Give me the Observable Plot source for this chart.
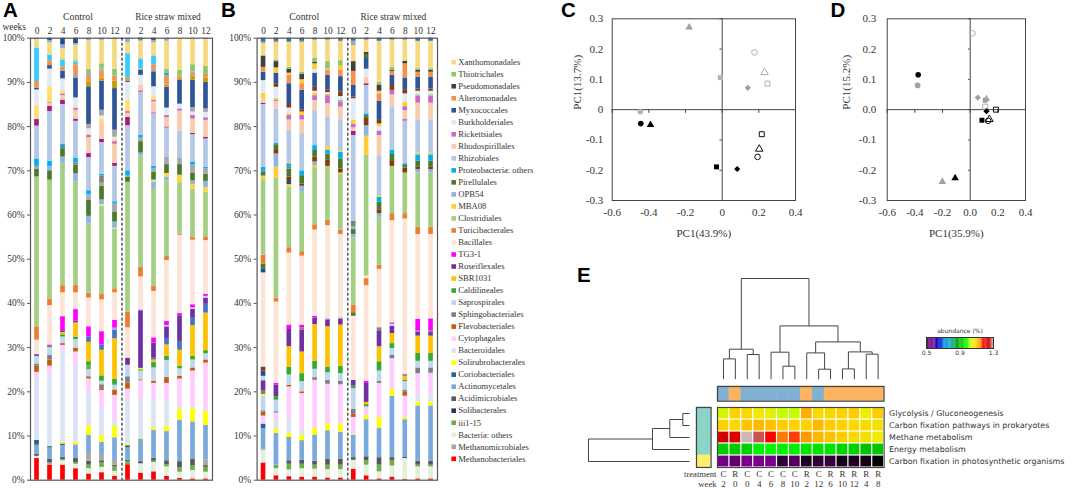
<!DOCTYPE html>
<html><head><meta charset="utf-8">
<script src="https://cdn.jsdelivr.net/npm/d3@7"></script>
<script src="https://cdn.jsdelivr.net/npm/@observablehq/plot@0.6"></script>
<style>
html,body{margin:0;padding:0;background:#fff;width:1072px;height:488px;overflow:hidden}
#fig{position:relative;width:1072px;height:488px}
#fig svg{position:absolute;overflow:visible;background:transparent}
.letter{position:absolute;font:bold 20.5px/20.5px "Liberation Sans",sans-serif;color:#000}
</style></head><body><div id="fig"></div>
<script>
const SERIF='"Liberation Serif","Times New Roman",serif';
const SANS='"DejaVu Sans",sans-serif';
const INK='#333';

// ---------- order-level composition: legend (top-down) ----------
const legendNames=["Xanthomonadales","Thiotrichales","Pseudomonadales","Alteromonadales","Myxococcales","Burkholderiales","Rickettsiales","Rhodospirillales","Rhizobiales","Proteobacteria: others","Pirellulales","OPB54","MBA08","Clostridiales","Turicibacterales","Bacillales","TG3-1","Roseiflexales","SBR1031","Caldilineales","Saprospirales","Sphingobacteriales","Flavobacteriales","Cytophagales","Bacteroidales","Solirubrobacterales","Coriobacteriales","Actinomycetales","Acidimicrobiales","Solibacterales","iii1-15","Bacteria: others","Methanomicrobiales","Methanobacteriales"];
const legendKeys=["xan","thi","dkg","alt","myx","bur","ric","rho","rhz","pro","pir","opb","mba","clo","tur","bcl","tg3","ros","sbr","cal","sap","sph","fla","cyt","bac","sol","cor","act","aci","slb","iii","oth","mmi","red"];
const layerColors={xan:"#f7d87f",thi:"#8cc66d",dkg:"#404040",alt:"#f4914d",myx:"#2f5597",bur:"#deebf7",ric:"#cc66cc",rho:"#f8cbad",rhz:"#b4c7e7",pro:"#00b0f0",pir:"#4a7a2c",opb:"#8fb4e0",mba:"#ffcc33",clo:"#a3cf82",tur:"#ed7d31",bcl:"#fce4d6",tg3:"#ff00ff",ros:"#7030a0",sbr:"#ffc000",cal:"#33aa33",sap:"#bdd7ee",sph:"#7f7f7f",fla:"#c55a11",cyt:"#ffccff",bac:"#dae3f3",sol:"#ffff00",cor:"#2a6099",act:"#7aaadc",aci:"#595959",slb:"#1f3864",iii:"#70ad47",oth:"#e2f0d9",mmi:"#a6a6a6",red:"#ff0000",
 sky:"#33ccff",mar:"#a0207f",och:"#c49a00",gry:"#a6a6a6",op2:"#8faadc",nav:"#1f4e8f",blu:"#2e75b6",brn:"#843c0c",yel:"#ffdf70",ylb:"#ffd23f",blv:"#4472c4",ora:"#c55a11"};

// Panel A: upper edge (%) of each layer, bottom-up, one array per sample
const aC0=["red",4.9,"oth",5.4,"aci",5.9,"act",7.9,"cor",9,"bac",23.3,"cyt",24.4,"fla",25.8,"sph",26.3,"sap",28,"ros",28.4,"bcl",31.7,"tur",34.7,"clo",68.6,"pir",70.4,"gry",71,"pro",72.7,"rhz",80.1,"mar",81.6,"rho",82,"yel",84.8,"bur",88.3,"myx",88.7,"alt",90.2,"sky",97.8,"xan",99.7,"op2",100];
const aC2=["red",3.4,"mmi",3.9,"aci",4.7,"act",7.3,"cor",7.6,"sol",7.7,"bac",24,"cyt",25.8,"fla",27.2,"sph",28.2,"sap",30,"cal",30.3,"tg3",30.6,"bcl",39.5,"tur",41,"clo",67.9,"pir",70,"opb",71,"pro",72.2,"rhz",83.4,"mar",84.6,"rho",85.2,"ric",85.4,"yel",89,"bur",93,"myx",93.8,"alt",94.9,"sky",96.2,"xan",99,"op2",99.5,"nav",100];
const aC4=["red",3.4,"oth",4.4,"iii",4.7,"aci",5.2,"act",7.8,"cor",8.2,"sol",8.6,"bac",29.3,"cyt",30.5,"fla",30.9,"sap",32.4,"cal",32.9,"sbr",33.4,"ros",33.8,"tg3",37,"bcl",42.4,"tur",44,"clo",71.7,"opb",73.1,"pir",75,"sph",75.5,"pro",76,"rhz",85,"mar",86,"rho",87,"ric",87.4,"yel",88.2,"bur",90.8,"myx",92.5,"gry",92.7,"alt",93.5,"sky",95.1,"xan",97.6,"op2",98.5,"nav",100];
const aC6=["red",2.6,"oth",3.6,"iii",4,"aci",4.9,"act",8,"sol",8.6,"bac",26.2,"cyt",29,"fla",29.9,"sap",31.8,"cal",32.4,"sbr",35.6,"ros",36,"tg3",38.6,"bcl",42.4,"tur",44.1,"clo",67.5,"opb",69.3,"pir",71.3,"sph",71.8,"pro",72.9,"rhz",81.2,"mar",81.7,"rho",83.7,"ric",84.1,"yel",84.5,"bur",86.5,"myx",91,"gry",91.8,"alt",94,"sky",94.6,"thi",94.9,"xan",98.4,"op2",98.8,"nav",100];
const aC8=["red",1.4,"oth",2.6,"iii",3.4,"aci",4.3,"gry",6,"act",10.2,"sol",12.3,"bac",19.8,"cyt",22.9,"fla",23.4,"sap",25,"iii",25.8,"cal",26.8,"sbr",31.2,"blv",32.4,"tg3",34.7,"bcl",41.2,"tur",42.3,"clo",58,"opb",59.7,"pir",63.3,"gry",64,"opb",64.6,"pro",65.5,"rhz",73,"mar",73.9,"rho",77.5,"ric",78,"yel",78.5,"bur",79.5,"gry",80.5,"myx",89,"och",90,"alt",91.5,"op2",92,"thi",93,"xan",99.4,"op2",100];
const aC10=["red",1.7,"oth",2.9,"iii",3.9,"aci",4.4,"gry",5.8,"act",8.6,"sol",10,"bac",16,"cyt",20.3,"fla",20.7,"sph",21.6,"sap",22.4,"cal",23.6,"sbr",29.4,"blv",30.6,"tg3",33.6,"bcl",40.8,"tur",42,"clo",62,"yel",62.3,"opb",63.4,"pir",66.5,"gry",67.2,"sph",68.8,"pro",69.2,"rhz",76.4,"mar",77.1,"rho",80.9,"yel",81.7,"bur",82.4,"gry",83.7,"myx",90.3,"och",91,"alt",92.6,"op2",93,"thi",94.2,"xan",99.5,"op2",100];
const aC12=["red",0.9,"oth",2,"iii",3,"aci",3.4,"gry",4.7,"act",9.6,"sol",12.3,"bac",13.6,"cyt",19.2,"fla",20.4,"sap",21.5,"cal",22.8,"sbr",32,"blv",34,"opb",34.4,"tg3",36.2,"bcl",42.4,"tur",43.3,"clo",56.8,"yel",57,"opb",58.4,"pir",60.7,"gry",62.5,"pro",63,"rhz",71,"mar",71.7,"rho",76,"ric",76.6,"yel",77.1,"bur",77.6,"gry",79.2,"myx",88.6,"och",90.3,"alt",91.4,"thi",93,"xan",99.7,"op2",100];
const aR0=["red",3.5,"iii",4.2,"aci",4.5,"act",7.3,"cor",7.8,"sol",8.2,"bac",18.5,"cyt",20.6,"fla",22,"sph",23.4,"sap",26,"ros",27.6,"bcl",34.5,"tur",38,"clo",67.4,"pir",68.5,"gry",68.8,"pro",70,"rhz",80.2,"mar",82.1,"rho",83,"ric",83.4,"yel",86,"bur",90,"myx",90.2,"alt",91,"sky",96.5,"xan",99,"op2",100];
const aR2=["red",1.6,"oth",3.7,"aci",4.2,"act",9.2,"cor",9.3,"sol",9.5,"bac",18.4,"cyt",22.5,"fla",22.7,"sap",24.7,"cal",25,"sol",25.3,"ros",38.3,"tg3",38.5,"bcl",46,"tur",48.2,"clo",73.3,"opb",74,"pir",76.6,"gry",77.4,"pro",78,"rhz",87.7,"ric",88.1,"rho",89.4,"yel",89.6,"bur",91.6,"myx",92.7,"alt",93,"sky",95.3,"xan",99.3,"op2",99.6,"dkg",100];
const aR4=["red",1.9,"oth",4,"iii",4.3,"aci",5,"act",11.3,"sol",11.9,"bac",18.5,"cyt",21.9,"fla",22.4,"sap",25.4,"cal",26.6,"sbr",27.2,"blv",27.6,"ros",31,"tg3",32.2,"bcl",42.7,"tur",43.9,"clo",66,"opb",67.5,"yel",67.9,"pir",69.7,"gry",70.4,"pro",71,"rhz",82.9,"mar",83.1,"rho",85.6,"ric",86,"yel",87,"bur",89,"myx",92.4,"gry",92.9,"alt",94,"sky",96,"xan",99,"op2",99.5,"dkg",100];
const aR6=["red",0.9,"oth",3,"iii",3.5,"aci",4.4,"act",11,"sol",12.2,"bac",18,"cyt",21.9,"fla",23,"sph",23.3,"sap",27.1,"cal",28,"sbr",30.6,"blv",31.9,"ros",34.7,"sap",35,"tg3",35.9,"bcl",49.7,"tur",50.6,"clo",67.7,"opb",68.5,"ylb",69.4,"pir",71.4,"gry",73,"rhz",79.7,"mar",79.9,"rho",82,"ric",82.5,"bur",84.2,"myx",88.9,"och",89.4,"alt",91.5,"pro",92,"thi",93,"xan",99.3,"op2",100];
const aR8=["red",0.4,"oth",1.8,"iii",2.8,"aci",4.2,"act",13.6,"sol",16,"bac",16.7,"cyt",22.9,"fla",23.5,"sap",25.2,"cal",25.8,"sbr",29.4,"blv",31.4,"ros",37.2,"tg3",37.7,"bcl",55.4,"tur",55.7,"clo",67.3,"ylb",69,"pir",71.4,"gry",72.8,"rhz",79,"rho",83.5,"ric",84,"bur",85,"gry",85.1,"myx",90.5,"och",91,"alt",91.5,"thi",92.8,"xan",100];
const aR10=["red",0.3,"oth",2.2,"iii",3.3,"aci",4.8,"act",13.2,"sol",16.2,"bac",16.8,"cyt",24.7,"fla",25.4,"sap",27.2,"cal",28,"sbr",35,"blv",36.8,"ros",38.7,"sap",39,"tg3",39.7,"bcl",54.3,"tur",55,"clo",65.8,"ylb",66.9,"opb",67.7,"pir",69.5,"gry",71.3,"pro",72,"rhz",78.2,"mar",78.5,"rho",81.7,"ric",82.5,"bur",83.3,"gry",84.3,"myx",90.5,"och",91.3,"alt",92,"op2",92.4,"thi",94,"xan",99.8,"op2",100];
const aR12=["red",0.3,"oth",1.8,"iii",2.9,"aci",3.3,"gry",4.6,"act",12.4,"sol",15.6,"bac",16.2,"cyt",26.5,"fla",27.2,"sap",28.6,"cal",29.3,"sbr",37.8,"blv",39.8,"ros",41.2,"sap",41.6,"tg3",42.1,"bcl",54.2,"tur",54.9,"clo",65.2,"ylb",66.2,"opb",67.6,"pir",69.2,"gry",70.5,"pro",70.8,"rhz",77.2,"mar",77.6,"rho",81.4,"ric",82,"bur",83.2,"gry",84,"myx",90,"och",91,"alt",91.8,"thi",93.6,"xan",99.7,"op2",100];

// Panel B
const bC0=["red",3.9,"oth",6.8,"iii",7,"act",11.7,"cor",12.7,"cyt",14.5,"fla",15.4,"sph",15.7,"sap",19.1,"sol",19.4,"sph",20.3,"ros",22.5,"sap",23.5,"nav",24.7,"brn",25.6,"bcl",46.9,"nav",47.7,"pir",48.9,"tur",50.9,"clo",68,"mba",68.8,"pir",69.6,"sph",69.9,"pro",70.8,"rhz",85,"mar",85.3,"rho",86.4,"mba",87.6,"bur",90.4,"myx",92.3,"alt",93.4,"dkg",95.9,"thi",96.1,"xan",98.9,"ora",99.1,"blu",100];
const bC2=["red",1,"oth",2.6,"iii",3.4,"act",10.6,"sol",11.5,"bac",13.6,"cyt",15.2,"sph",15.5,"sap",18.1,"cal",18.9,"ros",21.5,"tg3",21.9,"bcl",40.3,"tur",41.2,"clo",68.3,"mba",70.8,"opb",73.8,"brn",74.8,"pir",75.9,"pro",76.2,"rhz",84,"rho",85.7,"ric",86,"mba",86.4,"bur",88.9,"brn",89.7,"myx",92.1,"mba",93.1,"alt",93.3,"dkg",94.7,"thi",95.1,"xan",99.1,"ora",99.3,"blu",100];
const bC4=["red",0.8,"oth",2.3,"iii",3.6,"aci",4.4,"act",9.4,"cor",9.6,"sol",10.6,"bac",13.7,"cyt",21.1,"fla",21.5,"sap",23.8,"cal",25.6,"sbr",30.2,"ros",34.1,"tg3",35.1,"bcl",51.4,"tur",52.6,"clo",66.3,"mba",66.9,"nav",67.8,"brn",68.6,"pir",70.4,"sph",70.8,"pro",71.6,"mba",71.9,"rhz",79.1,"rho",81.5,"ric",82.5,"mba",82.9,"bur",84.2,"brn",85,"myx",89.7,"alt",91.6,"mba",92.1,"dkg",93,"thi",93.4,"xan",99.1,"blu",100];
const bC6=["red",0.7,"oth",2.6,"iii",3.6,"aci",4.5,"act",8.7,"cor",8.9,"sol",10.2,"bac",11.3,"cyt",19.6,"fla",20,"sap",22.3,"cal",24.1,"sbr",29,"ros",33.9,"sph",34.5,"tg3",35.1,"bcl",50.7,"tur",51.7,"clo",65.3,"opb",66.5,"brn",67,"pir",68.9,"pro",70,"rhz",78.4,"rho",81.5,"ric",82.5,"mba",83.3,"brn",83.8,"myx",88.2,"alt",89.7,"mba",90.6,"dkg",91.8,"thi",92.3,"xan",99.1,"ora",99.3,"blu",100];
const bC8=["red",0.7,"oth",2.5,"iii",3.4,"aci",4.3,"act",10.2,"sol",11.7,"cyt",22.6,"sph",23.2,"sap",25.1,"cal",26.9,"sbr",35.2,"ros",36.7,"tg3",37.1,"bcl",56.6,"tur",57.8,"clo",70.7,"mba",71.2,"opb",72,"brn",73.1,"pir",74.6,"pro",75.7,"rhz",83.6,"rho",85.9,"ric",87,"mba",87.6,"bur",88,"brn",88.9,"myx",92.1,"bur",92.9,"mba",94.2,"dkg",94.5,"thi",95.5,"xan",99.6,"blu",100];
const bC10=["red",0.5,"oth",2.4,"iii",3.4,"aci",4.7,"act",11.2,"sol",12.7,"cyt",21.7,"sph",22.6,"sap",24.3,"cal",25.6,"sbr",34.7,"ros",36.3,"sap",36.7,"bcl",57.6,"tur",58.8,"clo",71,"brn",72.5,"pir",73.8,"pro",74.7,"mba",75.5,"rhz",82.1,"rho",85.2,"ric",87,"mba",87.3,"bur",87.7,"brn",88.3,"myx",91.6,"alt",92.8,"mba",93,"thi",94.7,"xan",99.6,"blu",100];
const bC12=["red",0.5,"oth",2.4,"iii",3.4,"aci",4.7,"act",10.9,"sol",12.7,"cyt",21.6,"sph",22.4,"sap",24.1,"cal",25.8,"sbr",35.1,"ros",36.5,"sap",36.8,"bcl",55.6,"tur",56.6,"clo",69.2,"mba",69.5,"brn",70.4,"pir",72.7,"pro",74.2,"mba",74.6,"rhz",81.5,"rho",84.4,"ric",85.5,"thi",86,"bur",86.8,"brn",87.8,"myx",91.3,"alt",92.7,"mba",93.8,"thi",94.9,"xan",99.3,"ora",99.5,"blu",100];
const bR0=["red",2.5,"oth",4.5,"aci",5.1,"act",10.2,"sol",10.4,"cyt",14.2,"fla",14.9,"sph",16,"sap",20.7,"cal",21.3,"ros",22.6,"bcl",37.1,"pir",37.9,"tur",39.6,"clo",54.8,"opb",55.6,"pir",56.7,"opb",57.3,"sph",58.6,"rhz",78,"mar",78.9,"rho",79.7,"ric",80.5,"mba",81.5,"bur",86.3,"brn",86.7,"myx",89.3,"alt",92.5,"dkg",94.7,"xan",98.3,"gry",99.3,"blu",100];
const bR2=["red",1,"oth",3.4,"iii",4.4,"aci",5.3,"act",13.7,"sol",14.6,"cyt",16.6,"cal",17.1,"sbr",17.6,"ros",21.9,"tg3",22.4,"bcl",44,"tur",45.6,"bcl",46.2,"clo",73.5,"mba",77.8,"opb",80.2,"brn",82,"pir",82.5,"pro",82.9,"rhz",89.3,"mar",89.7,"rho",91.2,"bur",93,"myx",95.4,"pir",96.3,"dkg",96.8,"xan",99.6,"blu",100];
const bR4=["red",0.3,"oth",1.9,"iii",3.4,"aci",5.1,"act",11.7,"sol",14.2,"cyt",21.9,"sph",22.4,"sap",24.7,"cal",26.8,"sbr",30.2,"ros",33.8,"sph",34.5,"bcl",47.7,"tur",48.6,"clo",59.5,"opb",60.3,"brn",61.2,"pir",62.9,"pro",64,"mba",64.4,"rhz",73.4,"rho",78,"ric",79,"bur",80,"mba",80.6,"brn",81.4,"myx",85.7,"alt",87.4,"mba",88,"dkg",89.4,"thi",90,"xan",99.3,"blu",100];
const bR6=["red",0.7,"oth",3.2,"iii",4.4,"aci",5.1,"act",19,"sol",20.5,"cyt",27.5,"sph",28.3,"sap",29.8,"cal",30.9,"sbr",33.2,"ros",34.8,"sap",35.3,"tg3",35.6,"bcl",58.7,"tur",60.3,"clo",71,"brn",72.3,"pir",73.7,"pro",74.6,"rhz",84.4,"rho",87.2,"ric",88.2,"brn",89.3,"myx",91.6,"alt",92.5,"dkg",92.8,"thi",93.4,"xan",99.6,"blu",100];
const bR8=["red",0.2,"oth",4.9,"slb",5.1,"act",13.7,"sol",14.2,"cyt",19,"fla",20,"sph",20.4,"sap",22.3,"cal",22.6,"sbr",23.5,"sph",23.9,"bcl",59.1,"tur",60.3,"clo",69.5,"brn",70.6,"pir",71.2,"pro",71.6,"rhz",81.2,"ric",81.7,"rho",83.6,"ric",84.5,"mba",85.5,"bur",87.4,"brn",88.2,"myx",91,"alt",94.2,"dkg",94.8,"xan",99.6,"blu",100];
const bR10=["red",0.3,"oth",3,"iii",3.4,"aci",4.3,"act",16.8,"sol",17.7,"bac",19.5,"cyt",24.1,"sph",25.4,"sap",26.9,"cal",28.7,"sbr",32.6,"ros",33.5,"sph",33.8,"tg3",36.4,"bcl",55.6,"tur",57.2,"clo",69.5,"opb",70.3,"brn",70.8,"pir",72.2,"pro",73.6,"mba",74,"rhz",81.5,"rho",85.3,"ric",86.9,"thi",87.2,"bur",88,"brn",88.5,"myx",91.2,"alt",92.3,"dkg",92.7,"thi",93.1,"xan",99.3,"blu",100];
const bR12=["red",0.3,"oth",3,"iii",3.4,"aci",4.3,"act",16.8,"sol",17.7,"bac",19.5,"cyt",24.2,"sph",25.4,"sap",26.9,"cal",28.7,"sbr",32.6,"ros",33.4,"sph",33.8,"tg3",36.5,"bcl",55.6,"tur",57.2,"clo",69.5,"opb",70.3,"brn",70.8,"pir",72.2,"pro",73.6,"mba",74,"rhz",81.5,"rho",85.3,"ric",86.9,"thi",87.2,"bur",88,"brn",88.5,"myx",91.2,"alt",92.3,"dkg",92.7,"thi",93.1,"xan",99.3,"blu",100];

const sampleIds=["C0","C2","C4","C6","C8","C10","C12","R0","R2","R4","R6","R8","R10","R12"];
const barsA=[aC0,aC2,aC4,aC6,aC8,aC10,aC12,aR0,aR2,aR4,aR6,aR8,aR10,aR12];
const barsB=[bC0,bC2,bC4,bC6,bC8,bC10,bC12,bR0,bR2,bR4,bR6,bR8,bR10,bR12];

// ---------- PCoA ----------
const cX=[-0.18,-0.01,0.176,0.231,0.247,0.14,-0.447,-0.444,-0.391,-0.031,0.082,0.216,0.202,0.193];
const cY=[0.272,0.106,0.189,0.123,0.086,0.072,-0.007,-0.046,-0.05,-0.189,-0.196,-0.081,-0.13,-0.156];
const cShape=["triangle","square","circle","triangle","square","diamond2","circle","circle","triangle","square","diamond2","square","triangle","circle"];
const cTone=["g","l","ol","ol","ol","g","l","k","k","k","k","ok","ok","ok"];
const dX=[0.017,-0.376,-0.38,0.055,0.118,0.109,0.109,0.139,0.118,0.186,0.085,0.13,-0.201,-0.109];
const dY=[0.252,0.115,0.08,0.04,0.036,0.031,0.01,-0.032,-0.005,0,-0.035,-0.037,-0.238,-0.226];
const dShape=["circle","circle","circle","diamond2","triangle","square","square","triangle","diamond2","square","square","circle","triangle","triangle"];
const dTone=["ol","k","g","g","l","g","ol","ok","k","ok","k","ok","g","k"];

// ---------- Heatmap ----------
const heatCols=["C2","R0","C0","C4","C6","C8","C10","R2","C12","R6","R10","R12","R4","R8"];
const heatWeeks=["2","0","0","4","6","8","10","2","12","6","10","12","4","8"];
const heatRows=["Glycolysis / Gluconeogenesis","Carbon fixation pathways in prokaryotes","Methane metabolism","Energy metabolism","Carbon fixation in photosynthetic organisms"];
const glyc=[1.036,1.092,1.084,1.068,1.052,1.028,1.028,1.124,1.084,1.084,1.092,1.10,1.06,1.10];
const prok=[1.092,1.084,1.108,1.116,1.108,1.10,1.092,1.092,1.116,1.10,1.092,1.084,1.084,1.076];
const meth=[1.244,1.22,1.296,1.276,1.18,1.148,1.164,1.14,1.116,1.108,1.10,1.084,1.076,1.06];
const ener=[0.924,0.916,0.924,0.964,0.972,0.96,0.96,0.948,0.948,0.948,0.928,0.924,0.908,0.912];
const phot=[0.54,0.532,0.544,0.548,0.544,0.516,0.528,0.51,0.516,0.518,0.508,0.51,0.508,0.5];
const heatVals=[glyc,prok,meth,ener,phot];
const rowClass=["a","a","a","a","b"];
// nested clusterings: [height,left,right], leaves are positions
const colTree=[10.07,[3,[2.03,0,1],[2.47,2,3]],[5.33,[2.7,4,[1.3,5,6]],[3.73,[2.63,7,[1,8,9]],[2.73,[1.03,10,11],[2.5,12,13]]]]];
const rowTree=[10.1,[3.7,[1.97,[0.67,0,1],2],3],4];

const spectralStops=[0,.05,.1,.15,.2,.25,.3,.35,.4,.45,.5,.55,.6,.65,.7,.75,.8,.85,.9,.95,1];
const spectralColors=["#000","#770088","#880099","#0000aa","#0000dd","#0077dd","#0099dd","#00aaaa","#00aa88","#009900","#00bb00","#00dd00","#00ff00","#bbff00","#eeee00","#ffcc00","#ff9900","#ff0000","#dd0000","#cc0000","#cccccc"];
const spectral=d3.scaleLinear().domain(spectralStops.map(t=>0.5+0.8*t)).range(spectralColors);

const fig=document.getElementById("fig");
function place(svg,left,top){svg.style.left=left+"px";svg.style.top=top+"px";fig.appendChild(svg);}
function segments(bars){
  const out=[];
  bars.forEach((arr,i)=>{let prev=0;for(let j=0;j<arr.length;j+=2){out.push({s:sampleIds[i],k:arr[j],y1:prev,y2:arr[j+1]});prev=arr[j+1];}});
  return out;
}
function stackPanel(bars,{width,ml,mr,divDx,extra=[]}){
  return Plot.plot({width,height:488,marginLeft:ml,marginRight:mr,marginTop:37.7,marginBottom:8.3,
    style:{fontFamily:SERIF,fontSize:"9.4px",color:INK},
    x:{type:"band",domain:sampleIds,paddingInner:0.64,paddingOuter:0.32,round:false,axis:null},
    y:{domain:[0,100],axis:null},
    color:{type:"identity"},
    marks:[
      Plot.barY(segments(bars),{x:"s",y1:"y1",y2:"y2",fill:d=>layerColors[d.k]}),
      Plot.frame({stroke:"#555",strokeWidth:1.2}),
      Plot.ruleX(["C12"],{x:d=>d,dx:divDx,stroke:"#000",strokeWidth:1,strokeDasharray:"3,2"}),
      Plot.axisY({ticks:d3.range(0,101,10),tickFormat:d=>d+"%",tickSize:3,tickPadding:3,label:null,stroke:"#555",fill:INK}),
      Plot.axisX({anchor:"top",tickFormat:d=>d.slice(1),tickSize:0,tickPadding:4,label:null,fill:INK}),
      Plot.text(["C6"],{x:d=>d,text:()=>"Control",frameAnchor:"top",lineAnchor:"middle",dy:-21,dx:2,fontSize:9.8,fill:INK}),
      Plot.text(["R6"],{x:d=>d,text:()=>"Rice straw mixed",frameAnchor:"top",lineAnchor:"middle",dy:-21,dx:1,fontSize:9.4,fill:INK}),
      ...extra
    ]});
}
place(stackPanel(barsA,{width:222,ml:30,mr:10,divDx:7,extra:[
  Plot.text(["weeks"],{text:d=>d,frameAnchor:"top-left",dx:-28,dy:-11,textAnchor:"start",lineAnchor:"middle",fontSize:9.4,fill:INK})
]}),0,0);
place(stackPanel(barsB,{width:225,ml:36.6,mr:8,divDx:7}),220,0);

// legend
place(Plot.plot({width:130,height:488,margin:0,marginTop:55.7,marginBottom:23.7,
  style:{fontFamily:SERIF,fontSize:"8.7px"},
  y:{type:"point",domain:legendNames,round:false,axis:null},color:{type:"identity"},
  marks:[
    Plot.dot(legendNames,{y:d=>d,frameAnchor:"left",dx:3.2,symbol:"square",r:2.6,fill:(d,i)=>layerColors[legendKeys[i]]}),
    Plot.text(legendNames,{y:d=>d,text:d=>d,frameAnchor:"left",dx:7.7,textAnchor:"start",fill:INK,fontSize:8.6})
  ]}),450,0);

// PCoA panels
const tone={g:{f:"#a0a0a0",s:"none"},l:{f:"#b4b4b4",s:"none"},k:{f:"#000",s:"none"},ol:{f:"none",s:"#b0b0b0"},ok:{f:"none",s:"#111"}};
function pcoa(xs,ys,shapes,tones,{width,ml,xFmt,yFmt,xlab,ylab,ypad,ydx}){
  const pts=xs.map((x,i)=>({x,y:ys[i],sh:shapes[i],t:tone[tones[i]]}));
  const xt=[-0.6,-0.4,-0.2,0,0.2,0.4],yt=[-0.3,-0.2,-0.1,0,0.1,0.2,0.3];
  return Plot.plot({width,height:240,marginLeft:ml,marginRight:8,marginTop:18.3,marginBottom:40,
    style:{fontFamily:SERIF,fontSize:"11px",color:INK},
    x:{domain:[-0.6,0.4],axis:null},y:{domain:[-0.3,0.3],axis:null},
    marks:[
      Plot.frame({stroke:"#444",strokeWidth:1}),
      Plot.ruleY([0],{stroke:"#444"}),Plot.ruleX([0],{stroke:"#444"}),
      Plot.ruleX(xt,{y1:0,y2:-0.012,stroke:"#444"}),
      Plot.ruleY(yt,{x1:0,x2:-0.012,stroke:"#444"}),
      Plot.axisX({ticks:xt,tickSize:0,tickPadding:8,tickFormat:xFmt,label:null,fill:INK}),
      Plot.axisY({ticks:yt,tickSize:0,tickPadding:ypad,tickFormat:yFmt,label:null,fill:INK}),
      Plot.dot(pts,{x:"x",y:"y",symbol:"sh",r:2.8,fill:d=>d.t.f,stroke:d=>d.t.s,strokeWidth:1}),
      Plot.text([xlab],{text:d=>d,frameAnchor:"bottom",lineAnchor:"middle",dy:33,fontSize:11,fill:INK}),
      Plot.text([ylab],{text:d=>d,frameAnchor:"left",dx:ydx,rotate:-90,fontSize:11,fill:INK})
    ]});
}
const hy=d=>d==0?"0":d3.format(".1f")(d).replace("−","-");
place(pcoa(cX,cY,cShape,cTone,{width:253,ml:61.7,xFmt:hy,yFmt:hy,xlab:"PC1(43.9%)",ylab:"PC1(13.7%)",ypad:9,ydx:-35}),550,0);
const h1=d=>d3.format(".1f")(d).replace("−","-");
place(pcoa(dX,dY,dShape,dTone,{width:193,ml:46.7,xFmt:h1,yFmt:h1,xlab:"PC1(35.9%)",ylab:"PC1(15.2%)",ypad:11,ydx:-40.7}),840,0);

// Heatmap
const heatData=heatRows.flatMap((r,i)=>heatCols.map((c,j)=>({r,c,v:heatVals[i][j]})));
place(Plot.plot({width:200,height:78,marginLeft:1,marginRight:32.4,marginTop:1,marginBottom:17,
  style:{fontFamily:SERIF,fontSize:"9px",color:INK},
  x:{type:"band",domain:heatCols,padding:0,round:false,axis:null},y:{type:"band",domain:heatRows,padding:0,round:false,axis:null},
  color:{type:"identity"},
  marks:[
    Plot.cell(heatData,{x:"c",y:"r",fill:d=>spectral(d.v),inset:0.6}),
    Plot.frame({stroke:"#444",strokeWidth:1.2}),
    Plot.text(heatCols,{x:d=>d,text:d=>d[0],frameAnchor:"bottom",lineAnchor:"middle",dy:6.6,fontSize:9,fill:INK}),
    Plot.text(heatWeeks,{x:(d,i)=>heatCols[i],text:d=>d,frameAnchor:"bottom",lineAnchor:"middle",dy:16.6,fontSize:9,fill:INK}),
    Plot.text(["treatment"],{text:d=>d,frameAnchor:"bottom-left",lineAnchor:"middle",dx:-1,dy:6.6,textAnchor:"end",fontSize:8.6,fill:INK}),
    Plot.text(["week"],{text:d=>d,frameAnchor:"bottom-left",lineAnchor:"middle",dx:-1,dy:16.6,textAnchor:"end",fontSize:8.6,fill:INK}),
    Plot.text(heatRows,{y:d=>d,text:d=>d,frameAnchor:"right",dx:5,textAnchor:"start",fontFamily:SANS,fontSize:7.9,fill:"#333"})
  ]}),715.7,405.7);

// treatment strip
const stripFill=d=>d[0]=="C"?"#80b1d3":"#fdb462";
place(Plot.plot({width:168.6,height:16.7,margin:1,x:{type:"band",domain:heatCols,padding:0,round:false,axis:null},color:{type:"identity"},
  marks:[Plot.cell(heatCols,{x:d=>d,fill:stripFill,stroke:stripFill,strokeWidth:0.6}),Plot.frame({stroke:"#444",strokeWidth:1.2})]}),715.7,385);
// row class strip
const sideFill=(d,i)=>rowClass[i]=="a"?"#8dd3c7":"#ffed6f";
place(Plot.plot({width:16.6,height:62,margin:1,y:{type:"band",domain:heatRows,padding:0,round:false,axis:null},color:{type:"identity"},
  marks:[Plot.cell(heatRows,{y:d=>d,fill:sideFill,stroke:sideFill,strokeWidth:0.6}),Plot.frame({stroke:"#444",strokeWidth:1.2})]}),694.7,405.7);

// dendrograms
function treeLinks(node,out){
  if(typeof node==="number")return {p:node+0.5,h:0};
  const [h,l,r]=node,L=treeLinks(l,out),R=treeLinks(r,out);
  out.push({p1:L.p,h1:L.h,p2:L.p,h2:h},{p1:R.p,h1:R.h,p2:R.p,h2:h},{p1:L.p,h1:h,p2:R.p,h2:h});
  return {p:(L.p+R.p)/2,h};
}
const colLinks=[];treeLinks(colTree,colLinks);
place(Plot.plot({width:168.6,height:102.7,margin:1,
  x:{domain:[0,14],axis:null},y:{domain:[0,10.07],axis:null},
  marks:[Plot.link(colLinks,{x1:"p1",y1:"h1",x2:"p2",y2:"h2",stroke:"#444",strokeWidth:1})]}),715.7,277.3);
const rowLinks=[];treeLinks(rowTree,rowLinks);
place(Plot.plot({width:103,height:62,margin:1,x:{domain:[10.1,0],axis:null},y:{domain:[5,0],axis:null},
  marks:[Plot.link(rowLinks,{x1:"h1",y1:"p1",x2:"h2",y2:"p2",stroke:"#444",strokeWidth:1})]}),586.7,405.7);

// colour-key
const ramp=d3.range(0.5,1.3,0.01);
place(Plot.plot({width:90,height:34,marginLeft:11,marginRight:12,marginTop:10,marginBottom:13,
  style:{fontFamily:SANS,fontSize:"6px",color:"#333"},
  x:{domain:[0.5,1.3],axis:null},color:{type:"identity"},
  marks:[
    Plot.rectX(ramp,{x1:d=>d,x2:d=>d+0.011,fill:d=>spectral(d)}),
    Plot.frame({stroke:"#333",strokeWidth:1}),
    Plot.axisX({ticks:[0.5,0.9,1.3],tickSize:0,tickPadding:2,tickFormat:d3.format(".1f"),label:null,fontSize:6}),
    Plot.text(["abundance (%)"],{text:d=>d,frameAnchor:"top",lineAnchor:"middle",dy:-6,fontSize:6,fill:"#333"})
  ]}),915,327);

[["A",3,0],["B",221,0],["C",561,0],["D",830.5,0],["E",577,265]].forEach(([t,x,y])=>{
  const e=document.createElement("div");e.className="letter";e.textContent=t;e.style.left=x+"px";e.style.top=y+"px";fig.appendChild(e);
});
</script></body></html>
